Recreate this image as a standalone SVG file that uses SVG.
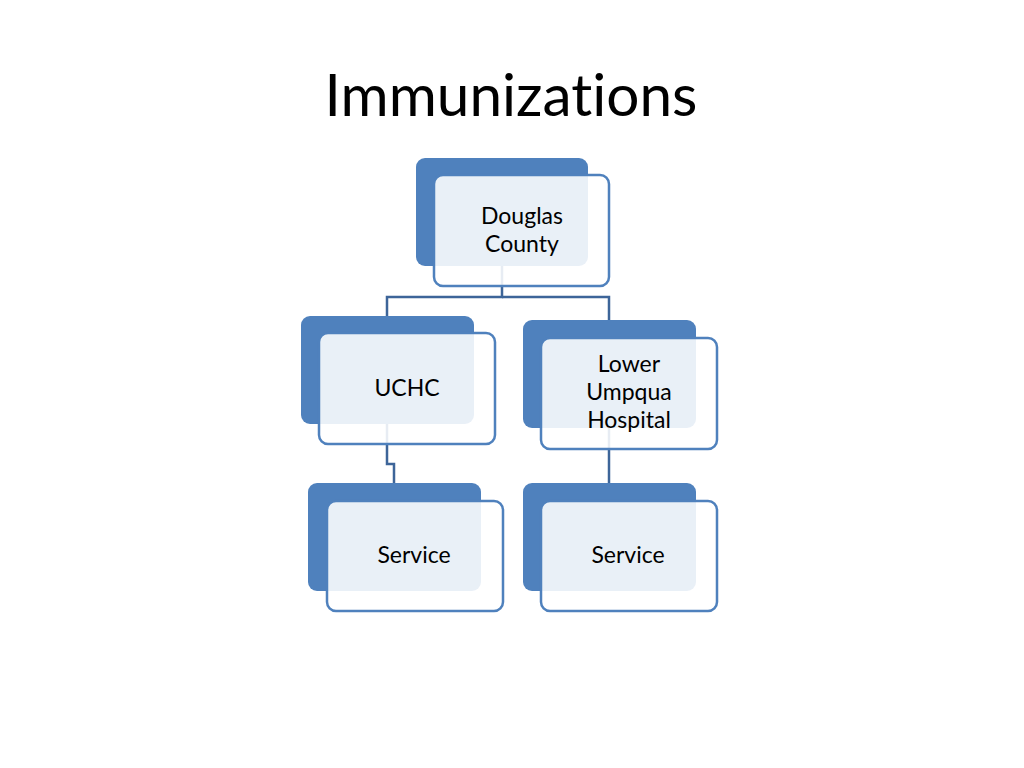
<svg xmlns="http://www.w3.org/2000/svg" width="1024" height="768" viewBox="0 0 1024 768">
<style>
.back{fill:#4F81BD}
.front{fill:#FFFFFF;fill-opacity:0.88;stroke:#4F81BD;stroke-width:2.5}
.lbl{font-family:Lato,"Open Sans",sans-serif;font-size:23px;fill:#000;text-anchor:middle;font-variant-ligatures:none}
.title{font-family:Lato,"Open Sans",sans-serif;font-size:58.5px;fill:#000;text-anchor:middle;font-variant-ligatures:none}
.conn{fill:none;stroke:#3D6599;stroke-width:2.5}
</style>
<rect width="1024" height="768" fill="#fff"/>
<text class="title" x="511" y="116">Immunizations</text>
<g id="connectors">
<path class="conn" d="M502 266 V297 H387 V316"/>
<path class="conn" d="M502 297 H609 V320"/>
<path class="conn" d="M387 424 V464 H394 V483"/>
<path class="conn" d="M609 428 V483"/>
</g>
<g id="douglas">
<rect class="back" x="416" y="158" width="172" height="108" rx="9"/>
<rect class="front" x="434" y="175" width="175" height="111" rx="9"/>
<text class="lbl" x="522" y="224">Douglas</text>
<text class="lbl" x="522" y="252">County</text>
</g>
<g id="uchc">
<rect class="back" x="301" y="316" width="173" height="108" rx="9"/>
<rect class="front" x="319" y="333" width="176" height="111" rx="9"/>
<text class="lbl" x="407" y="396">UCHC</text>
</g>
<g id="luh">
<rect class="back" x="523" y="320" width="173" height="108" rx="9"/>
<rect class="front" x="541" y="338" width="176" height="111" rx="9"/>
<text class="lbl" x="629" y="372">Lower</text>
<text class="lbl" x="629" y="400">Umpqua</text>
<text class="lbl" x="629" y="428">Hospital</text>
</g>
<g id="service1">
<rect class="back" x="308" y="483" width="173" height="108" rx="9"/>
<rect class="front" x="327" y="501" width="176" height="110" rx="9"/>
<text class="lbl" x="414" y="563">Service</text>
</g>
<g id="service2">
<rect class="back" x="523" y="483" width="173" height="108" rx="9"/>
<rect class="front" x="541" y="501" width="176" height="110" rx="9"/>
<text class="lbl" x="628" y="563">Service</text>
</g>
</svg>
